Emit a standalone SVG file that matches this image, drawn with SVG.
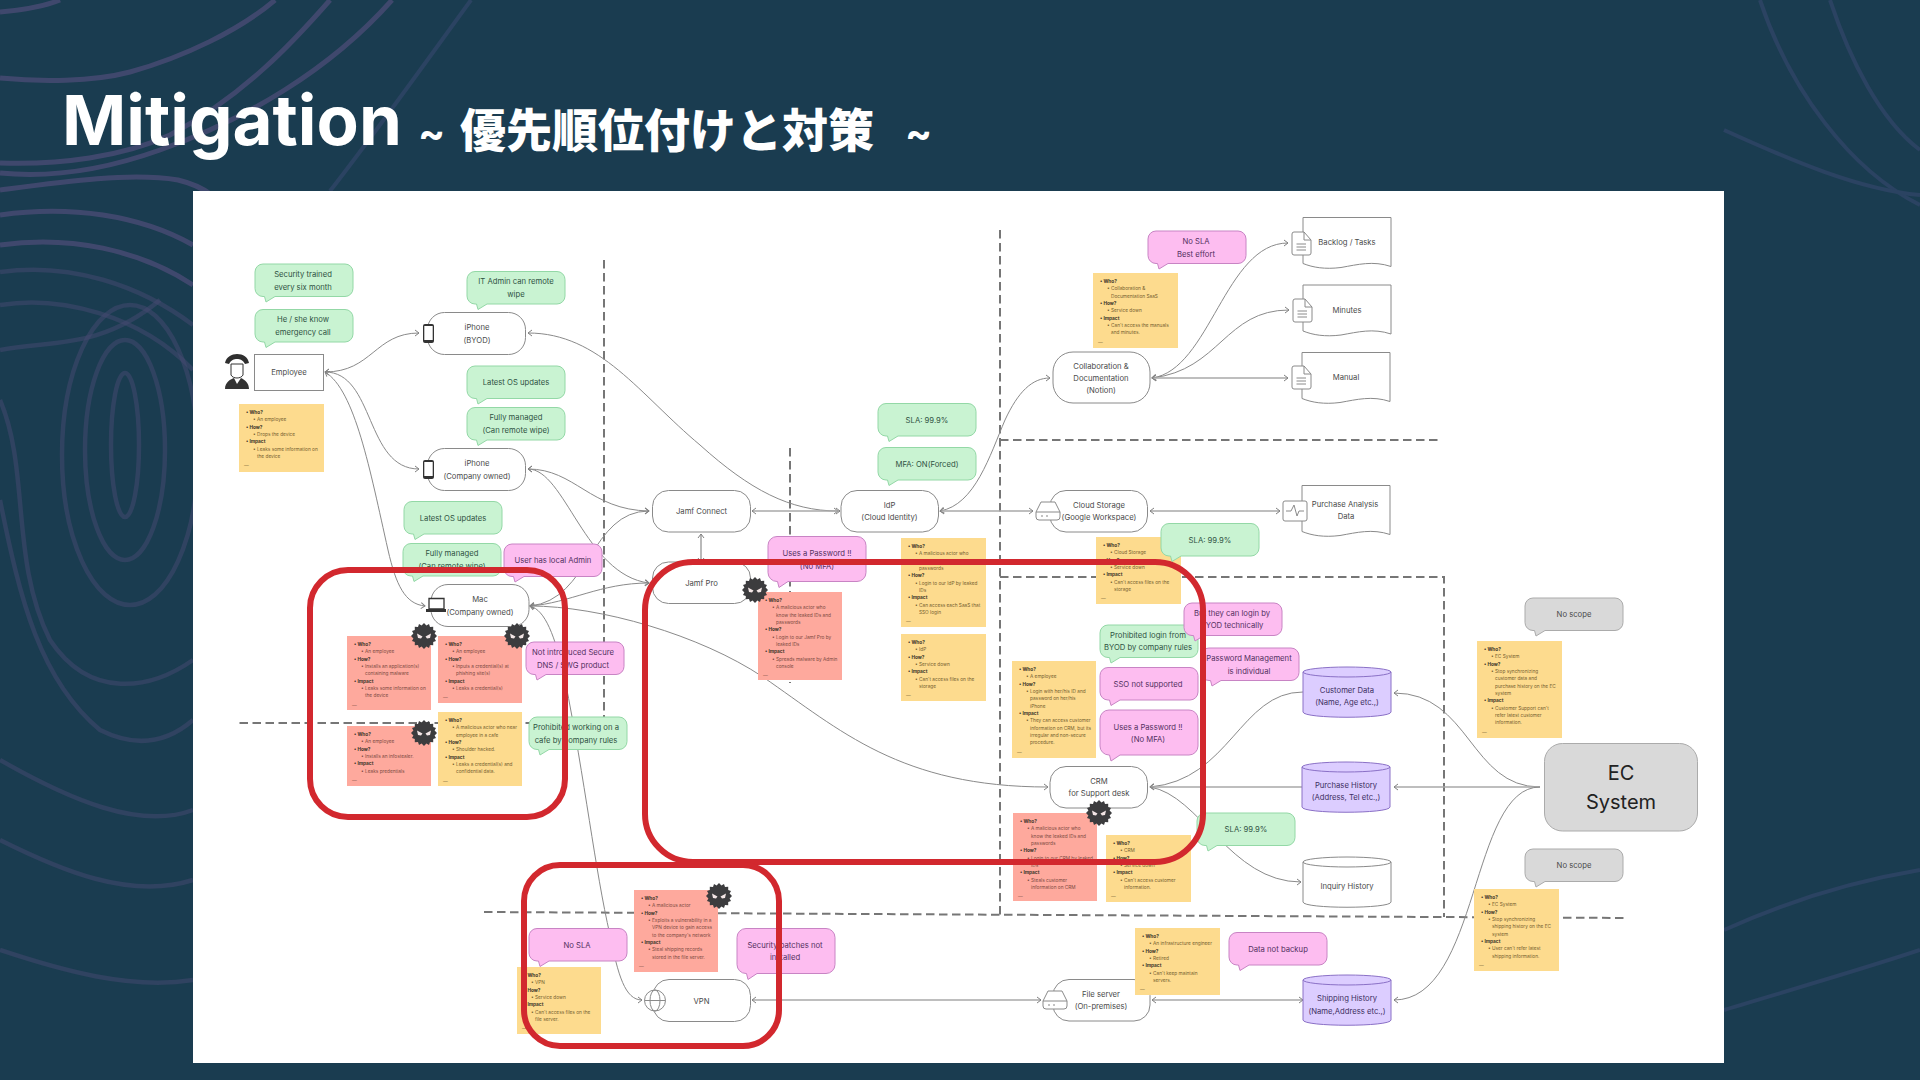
<svg xmlns="http://www.w3.org/2000/svg" width="1920" height="1080" viewBox="0 0 1920 1080">
<style>
text{font-family:Inter,"Noto Sans","Liberation Sans",sans-serif}
.bg{fill:none;stroke:#464a72;stroke-width:5;opacity:.85}
.bl{fill:none;stroke:#464a72;stroke-width:4.500;opacity:.5}
.bf{fill:none;stroke:#2b4362;stroke-width:4}
.c{fill:none;stroke:#8a8a8a;stroke-width:1;marker-start:url(#ch);marker-end:url(#ch)}
.n{fill:none;stroke:#8a8a8a;stroke-width:1}
.s{fill:none;stroke:#a8a8a8;stroke-width:1.6;marker-start:url(#ch);marker-end:url(#ch)}
.sn{fill:none;stroke:#a8a8a8;stroke-width:1.6}
.d{fill:none;stroke:#767676;stroke-width:2;stroke-dasharray:8.500 4.500}
.box{fill:none;stroke:#d2282e;stroke-width:6}
.p{fill:#fff;stroke:#8a8a8a;stroke-width:1}
.green{fill:#c9f3d2;stroke:#93d8a6;stroke-width:1}
.pink{fill:#fdbdf0;stroke:#c884c4;stroke-width:1}
.gray{fill:#d9d9d9;stroke:#ababab;stroke-width:1}
.y{fill:#fddb8e}
.r{fill:#fea99d}
.cy{fill:#dccdff;stroke:#8a70c6;stroke-width:1}
.cw{fill:#fff;stroke:#8a8a8a;stroke-width:1}
.ico{fill:#fff;stroke:#8a8a8a;stroke-width:1}
.t{font-size:7.7px;text-anchor:middle;fill:#4a4a4a}
.tg{font-size:7.7px;text-anchor:middle;fill:#2f5242}
.tp{font-size:7.7px;text-anchor:middle;fill:#53305f}
.tc{font-size:7.7px;text-anchor:middle;fill:#3c2f62}
.m{font-size:4.75px;fill:#75602f}
.mr{font-size:4.75px;fill:#7d4a42}
.b{font-weight:700;fill:#3a3428}
</style>
<defs>
<marker id="ch" viewBox="-7 -4 8 8" refX="0" refY="0" markerWidth="8" markerHeight="8" markerUnits="userSpaceOnUse" orient="auto-start-reverse"><path d="M-4 -3L0 0L-4 3" fill="none" stroke="#808080" stroke-width="1"/></marker>
<path id="bub" d="M8 0H90a8 8 0 0 1 8 8V24.500a8 8 0 0 1-8 8H20L11 38L9.500 32.500H8a8 8 0 0 1-8-8V8a8 8 0 0 1 8-8Z"/>
<path id="bubT" d="M9 0H89a9 9 0 0 1 9 9V36a9 9 0 0 1-9 9H20L11 51L9.500 45H9a9 9 0 0 1-9-9V9a9 9 0 0 1 9-9Z"/>
<g id="mal"><path fill="#3c3c3e" d="M0-13L2.400-10.400L5-12L6-9L9.200-9.200L9.200-6L12-5L10.600-2.400L13 0L10.600 2.400L12 5L9.200 6L9.200 9.200L6 9L5 12L2.400 10.400L0 13L-2.400 10.400L-5 12L-6 9L-9.200 9.200L-9.200 6L-12 5L-10.600 2.400L-13 0L-10.600-2.400L-12-5L-9.200-6L-9.200-9.200L-6-9L-5-12L-2.400-10.400Z"/><path fill="#f3e6e6" d="M-7-2.500L-1.500 0.500L-3 2.500L-6 2ZM7-2.500L1.500 0.500L3 2.500L6 2Z"/></g>
<g id="doc"><path class="ico" d="M2 0H12L19 8V21a2 2 0 0 1-2 2H2a2 2 0 0 1-2-2V2a2 2 0 0 1 2-2Z"/><path fill="none" stroke="#8a8a8a" d="M12 0V8H19M4.500 12H14M4.500 15H14M4.500 18H14"/></g>
<g id="store"><path class="ico" d="M5 0H19L24 10V15a3 3 0 0 1-3 3H3a3 3 0 0 1-3-3V10Z"/><path fill="none" stroke="#8a8a8a" d="M0 10H24"/><circle cx="6" cy="14" r=".8" fill="#777"/><circle cx="11" cy="14" r=".8" fill="#777"/></g>
<g id="phone"><rect x="0" y="0" width="11" height="19" rx="2" fill="#333"/><rect x="1.300" y="2" width="8.400" height="14" fill="#fff"/></g>
<path id="dw" d="M0 0H88V49C70 43 55 47 38 50C22 52 10 50 0 46Z"/>
<g id="cyl"><path d="M0 5V45C0 52 88 52 88 45V5Z"/><ellipse cx="44" cy="5" rx="44" ry="5"/></g>
</defs>

<rect width="1920" height="1080" fill="#1a3c50"/>
<g id="background">
<path class="bg" d="M0 78C40 82 92 82 130 72C184 57 240 30 275 0"/>
<path class="bg" d="M0 12C25 10 45 6 60 0"/>
<path class="bg" d="M0 163C60 165 122 157 170 135C245 95 295 40 330 0"/>
<path class="bg" d="M0 173C50 178 104 170 160 150C245 120 330 70 392 0"/>
<path class="bg" d="M0 190C60 182 130 172 178 180C195 184 205 190 212 195"/>
<path class="bf" d="M471 0C420 70 370 140 330 191"/>
<path class="bg" d="M0 215C70 205 140 215 193 245"/>
<path class="bg" d="M0 245C70 235 140 250 193 285"/>
<path class="bl" d="M0 272C70 262 140 285 193 325"/>
<path class="bl" d="M0 305C60 295 140 315 193 370"/>
<ellipse class="bl" cx="125" cy="445" rx="14" ry="72"/>
<ellipse class="bl" cx="125" cy="450" rx="40" ry="110"/>
<ellipse class="bl" cx="130" cy="455" rx="68" ry="150"/>
<path class="bl" d="M0 350C50 340 100 350 160 300"/>
<path class="bl" d="M0 400C30 470 10 560 50 640C90 700 150 690 193 660"/>
<path class="bl" d="M0 500C20 600 40 680 100 730C140 750 170 740 193 720"/>
<path class="bl" d="M0 760C70 800 140 830 193 810"/>
<path class="bl" d="M0 840C60 870 130 900 193 880"/>
<path class="bl" d="M0 950C60 970 130 990 193 980"/>
<path class="bf" d="M1830 0C1850 60 1880 120 1920 150"/>
<path class="bf" d="M1760 0C1790 90 1850 170 1920 205"/>
<path class="bf" d="M1724 130C1790 160 1860 190 1920 195"/>
<path class="bf" d="M1724 930C1790 900 1860 880 1920 870"/>
<path class="bf" d="M1724 1010C1790 990 1860 970 1920 950"/>
</g>

<g id="title">
<text x="62" y="145" font-size="69" font-weight="700" fill="#fff">Mitigation</text>
<text x="418" y="147" font-size="40" font-weight="700" fill="#fff">~</text>
<text x="460" y="147" font-size="46" font-weight="900" fill="#fff" style="font-family:'Noto Sans CJK JP',sans-serif">優先順位付けと対策</text>
<text x="905" y="147" font-size="40" font-weight="700" fill="#fff">~</text>
</g>

<rect id="panel" x="193" y="191" width="1531" height="872" fill="#fff"/>

<g id="dashes">
<path class="d" d="M604 260V723H236"/>
<path class="d" d="M790 448V683"/>
<path class="d" d="M1000 230V915"/>
<path class="d" d="M1000 440H1442"/>
<path class="d" d="M1000 577H1444V917"/>
<path class="d" d="M484 912L1627 918"/>
</g>

<g id="connectors">
<path class="c" d="M325 372C372 372 375 333 419 333"/>
<path class="c" d="M325 372C375 372 365 469 419 469"/>
<path class="c" d="M325 372C355 390 370 470 388 550C396 585 405 604 425 606"/>
<path class="c" d="M528 333C600 333 640 395 700 445C750 490 790 511 838 511"/>
<path class="c" d="M528 469C575 469 590 510 649 511"/>
<path class="c" d="M528 469C565 469 585 575 649 583"/>
<path class="c" d="M530 606C590 600 590 511 649 511"/>
<path class="c" d="M530 606C570 603 600 583 649 583"/>
<path class="c" d="M530 606C600 606 700 635 763 677C840 730 900 787 1048 787"/>
<path class="c" d="M530 606C545 610 555 635 565 680C585 780 595 870 610 935C618 975 625 1000 642 1000"/>
<path class="s" d="M752 511H840"/>
<path class="s" d="M701 534V562"/>
<path class="c" d="M940 511C975 505 990 455 1005 420C1018 392 1032 378 1050 378"/>
<path class="s" d="M940 511H1033"/>
<path class="s" d="M1150 511H1280"/>
<path class="c" d="M1152 378C1210 370 1225 243 1288 243"/>
<path class="c" d="M1152 378C1220 370 1225 310 1289 310"/>
<path class="s" d="M1152 378H1288"/>
<path class="s" d="M752 1000H1041"/>
<path class="s" d="M1152 1000H1303"/>
<path class="n" d="M1150 787C1230 780 1240 692 1303 692" marker-start="url(#ch)"/>
<path class="sn" d="M1150 787H1303" marker-start="url(#ch)"/>
<path class="n" d="M1150 787C1200 795 1230 882 1301 882" marker-end="url(#ch)"/>
<path class="n" d="M1394 693C1470 693 1470 787 1540 787" marker-start="url(#ch)"/>
<path class="sn" d="M1394 787H1540" marker-start="url(#ch)"/>
<path class="n" d="M1394 1000C1480 1000 1470 787 1540 787" marker-start="url(#ch)"/>
</g>

<g id="n-employee"><rect x="254.500" y="354.500" width="69" height="36" fill="#fff" stroke="#8a8a8a"/><text class="t" x="289" y="375">Employee</text>
<path fill="#2f2f2f" d="M225 363C226 357 232 354 237 354C243 354 248 357 249 363L245 364C243 360 240 359 237 359C234 359 231 360 229 364Z"/><path fill="#fff" stroke="#333" d="M231 364H243V375C241 379 233 379 231 375Z"/><path fill="#333" d="M225 389C225 382 231 379 234 378L237 384L241 378C245 380 249 383 249 389Z"/></g>
<g id="n-iphone-byod"><rect class="p" x="427.500" y="312.500" width="98" height="42" rx="17"/><use href="#phone" x="423" y="324"/><text class="t" x="477" y="330">iPhone</text><text class="t" x="477" y="343">(BYOD)</text></g>
<g id="n-iphone-co"><rect class="p" x="427.500" y="448.500" width="98" height="42" rx="17"/><use href="#phone" x="423" y="460"/><text class="t" x="477" y="466">iPhone</text><text class="t" x="477" y="479">(Company owned)</text></g>
<g id="n-mac"><rect class="p" x="431" y="584.500" width="98" height="42" rx="17"/><path fill="#fff" stroke="#333" stroke-width="1.300" d="M429 598.500H444V609H429Z"/><path fill="#333" d="M426 609H446V612H426Z"/><text class="t" x="480" y="602">Mac</text><text class="t" x="480" y="614.500">(Company owned)</text></g>
<g id="n-jamfconnect"><rect class="p" x="652.500" y="490.500" width="98" height="41.500" rx="16"/><text class="t" x="701.500" y="514">Jamf Connect</text></g>
<g id="n-jamfpro"><rect class="p" x="652.500" y="562" width="98" height="41.500" rx="16"/><text class="t" x="701.500" y="586">Jamf Pro</text></g>
<g id="n-idp"><rect class="p" x="841" y="490.500" width="97.500" height="41.500" rx="16"/><text class="t" x="889.500" y="508">IdP</text><text class="t" x="889.500" y="520">(Cloud Identity)</text></g>
<g id="n-collab"><rect class="p" x="1053" y="352" width="97" height="51" rx="20"/><text class="t" x="1101" y="368.500">Collaboration &amp;</text><text class="t" x="1101" y="381">Documentation</text><text class="t" x="1101" y="393">(Notion)</text></g>
<g id="n-cloud"><rect class="p" x="1050" y="490.500" width="97.500" height="41.500" rx="16"/><use href="#store" x="1036" y="502"/><text class="t" x="1099" y="508">Cloud Storage</text><text class="t" x="1099" y="520">(Google Workspace)</text></g>
<g id="n-crm"><rect class="p" x="1050" y="766.500" width="97.500" height="41.500" rx="16"/><text class="t" x="1099" y="784">CRM</text><text class="t" x="1099" y="796">for Support desk</text></g>
<g id="n-vpn"><rect class="p" x="653" y="979.500" width="97.500" height="42" rx="16"/><circle class="ico" cx="655" cy="1000.500" r="10.500"/><ellipse cx="655" cy="1000.500" rx="5" ry="10.500" fill="none" stroke="#8a8a8a"/><path stroke="#8a8a8a" d="M644.500 1000.500H665.500"/><text class="t" x="701.500" y="1003.500">VPN</text></g>
<g id="n-file"><rect class="p" x="1053" y="979.500" width="97" height="41.500" rx="16"/><use href="#store" x="1043" y="991"/><text class="t" x="1101" y="997">File server</text><text class="t" x="1101" y="1009">(On-premises)</text></g>

<g id="n-backlog"><use href="#dw" x="1303" y="217.500" fill="#fff" stroke="#8a8a8a"/><use href="#doc" x="1292" y="232"/><text class="t" x="1347" y="245">Backlog / Tasks</text></g>
<g id="n-minutes"><use href="#dw" x="1303" y="285" fill="#fff" stroke="#8a8a8a"/><use href="#doc" x="1293" y="299"/><text class="t" x="1347" y="312.500">Minutes</text></g>
<g id="n-manual"><use href="#dw" x="1302" y="352.500" fill="#fff" stroke="#8a8a8a"/><use href="#doc" x="1292" y="366"/><text class="t" x="1346" y="379.500">Manual</text></g>
<g id="n-analysis"><use href="#dw" x="1302" y="485.500" fill="#fff" stroke="#8a8a8a"/><rect class="ico" x="1283" y="501" width="24" height="20" rx="2"/><path fill="none" stroke="#8a8a8a" d="M1286 511H1291L1294 505L1297 516L1299 511H1304"/><text class="t" x="1345" y="507">Purchase Analysis</text><text class="t" x="1346" y="519">Data</text></g>

<g id="n-customer"><use href="#cyl" x="1303" y="667" class="cy"/><text class="tc" x="1347" y="692.500">Customer Data</text><text class="tc" x="1347" y="705">(Name, Age etc.,)</text></g>
<g id="n-purchase"><use href="#cyl" x="1302" y="762" class="cy"/><text class="tc" x="1346" y="788">Purchase History</text><text class="tc" x="1346" y="800">(Address, Tel etc.,)</text></g>
<g id="n-inquiry"><use href="#cyl" x="1303" y="857" class="cw"/><text class="t" x="1347" y="889">Inquiry History</text></g>
<g id="n-shipping"><use href="#cyl" x="1303" y="975" class="cy"/><text class="tc" x="1347" y="1001">Shipping History</text><text class="tc" x="1347" y="1013.500">(Name,Address etc.,)</text></g>

<g id="n-ec"><rect x="1544.500" y="743.500" width="153" height="87.500" rx="18" fill="#d9d9d9" stroke="#ababab"/><text x="1621" y="780" font-size="20" text-anchor="middle" fill="#222">EC</text><text x="1621" y="809" font-size="20" text-anchor="middle" fill="#222">System</text></g>

<g id="note-employee" transform="translate(239 404)"><rect class="y" width="85" height="68"/><text class="m"><tspan class="b" x="7" y="10">• Who?</tspan><tspan x="14" dy="7.330">• An employee</tspan><tspan class="b" x="7" dy="7.330">• How?</tspan><tspan x="14" dy="7.330">• Drops the device</tspan><tspan class="b" x="7" dy="7.330">• Impact</tspan><tspan x="14" dy="7.330">• Leaks some information on</tspan><tspan x="18" dy="7.330">the device</tspan><tspan x="5" dy="9.500">—</tspan></text></g>
<g id="note-r1" transform="translate(347 636)"><rect class="r" width="84" height="74"/><text class="mr"><tspan class="b" x="7" y="10">• Who?</tspan><tspan x="14" dy="7.330">• An employee</tspan><tspan class="b" x="7" dy="7.330">• How?</tspan><tspan x="14" dy="7.330">• Installs an application(s)</tspan><tspan x="18" dy="7.330">containing malware</tspan><tspan class="b" x="7" dy="7.330">• Impact</tspan><tspan x="14" dy="7.330">• Leaks some information on</tspan><tspan x="18" dy="7.330">the device</tspan><tspan x="5" dy="9.500">—</tspan></text></g>
<g id="note-r2" transform="translate(438 636)"><rect class="r" width="84" height="67"/><text class="mr"><tspan class="b" x="7" y="10">• Who?</tspan><tspan x="14" dy="7.330">• An employee</tspan><tspan class="b" x="7" dy="7.330">• How?</tspan><tspan x="14" dy="7.330">• Inputs a credential(s) at</tspan><tspan x="18" dy="7.330">phishing site(s)</tspan><tspan class="b" x="7" dy="7.330">• Impact</tspan><tspan x="14" dy="7.330">• Leaks a credential(s)</tspan><tspan x="5" dy="9.500">—</tspan></text></g>
<g id="note-r3" transform="translate(347 726)"><rect class="r" width="84" height="60"/><text class="mr"><tspan class="b" x="7" y="10">• Who?</tspan><tspan x="14" dy="7.330">• An employee</tspan><tspan class="b" x="7" dy="7.330">• How?</tspan><tspan x="14" dy="7.330">• Installs an infostealer.</tspan><tspan class="b" x="7" dy="7.330">• Impact</tspan><tspan x="14" dy="7.330">• Leaks predentials</tspan><tspan x="5" dy="9.500">—</tspan></text></g>
<g id="note-y1" transform="translate(438 712)"><rect class="y" width="84" height="74"/><text class="m"><tspan class="b" x="7" y="10">• Who?</tspan><tspan x="14" dy="7.330">• A malicious actor who near</tspan><tspan x="18" dy="7.330">employee in a cafe</tspan><tspan class="b" x="7" dy="7.330">• How?</tspan><tspan x="14" dy="7.330">• Shoulder hacked.</tspan><tspan class="b" x="7" dy="7.330">• Impact</tspan><tspan x="14" dy="7.330">• Leaks a credential(s) and</tspan><tspan x="18" dy="7.330">confidential data.</tspan><tspan x="5" dy="9.500">—</tspan></text></g>
<g id="note-jamf" transform="translate(758 592)"><rect class="r" width="84" height="88"/><text class="mr"><tspan class="b" x="7" y="10">• Who?</tspan><tspan x="14" dy="7.330">• A malicious actor who</tspan><tspan x="18" dy="7.330">know the leaked IDs and</tspan><tspan x="18" dy="7.330">passwords</tspan><tspan class="b" x="7" dy="7.330">• How?</tspan><tspan x="14" dy="7.330">• Login to our Jamf Pro by</tspan><tspan x="18" dy="7.330">leaked IDs</tspan><tspan class="b" x="7" dy="7.330">• Impact</tspan><tspan x="14" dy="7.330">• Spreads malware by Admin</tspan><tspan x="18" dy="7.330">console</tspan><tspan x="5" dy="9.500">—</tspan></text></g>
<g id="note-idp1" transform="translate(901 538)"><rect class="y" width="85" height="89"/><text class="m"><tspan class="b" x="7" y="10">• Who?</tspan><tspan x="14" dy="7.330">• A malicious actor who</tspan><tspan x="18" dy="7.330">know the leaked IDs and</tspan><tspan x="18" dy="7.330">passwords</tspan><tspan class="b" x="7" dy="7.330">• How?</tspan><tspan x="14" dy="7.330">• Login to our IdP by leaked</tspan><tspan x="18" dy="7.330">IDs</tspan><tspan class="b" x="7" dy="7.330">• Impact</tspan><tspan x="14" dy="7.330">• Can access each SaaS that</tspan><tspan x="18" dy="7.330">SSO login</tspan><tspan x="5" dy="9.500">—</tspan></text></g>
<g id="note-idp2" transform="translate(901 634)"><rect class="y" width="85" height="67"/><text class="m"><tspan class="b" x="7" y="10">• Who?</tspan><tspan x="14" dy="7.330">• IdP</tspan><tspan class="b" x="7" dy="7.330">• How?</tspan><tspan x="14" dy="7.330">• Service down</tspan><tspan class="b" x="7" dy="7.330">• Impact</tspan><tspan x="14" dy="7.330">• Can't access files on the</tspan><tspan x="18" dy="7.330">storage</tspan><tspan x="5" dy="9.500">—</tspan></text></g>
<g id="note-collab" transform="translate(1093 273)"><rect class="y" width="85" height="75"/><text class="m"><tspan class="b" x="7" y="10">• Who?</tspan><tspan x="14" dy="7.330">• Collaboration &amp;</tspan><tspan x="18" dy="7.330">Documentation SaaS</tspan><tspan class="b" x="7" dy="7.330">• How?</tspan><tspan x="14" dy="7.330">• Service down</tspan><tspan class="b" x="7" dy="7.330">• Impact</tspan><tspan x="14" dy="7.330">• Can't access the manuals</tspan><tspan x="18" dy="7.330">and minutes.</tspan><tspan x="5" dy="9.500">—</tspan></text></g>
<g id="note-storage" transform="translate(1096 537)"><rect class="y" width="85" height="67"/><text class="m"><tspan class="b" x="7" y="10">• Who?</tspan><tspan x="14" dy="7.330">• Cloud Storage</tspan><tspan class="b" x="7" dy="7.330">• How?</tspan><tspan x="14" dy="7.330">• Service down</tspan><tspan class="b" x="7" dy="7.330">• Impact</tspan><tspan x="14" dy="7.330">• Can't access files on the</tspan><tspan x="18" dy="7.330">storage</tspan><tspan x="5" dy="9.500">—</tspan></text></g>
<g id="note-byod" transform="translate(1012 661)"><rect class="y" width="84" height="97"/><text class="m"><tspan class="b" x="7" y="10">• Who?</tspan><tspan x="14" dy="7.330">• A employee</tspan><tspan class="b" x="7" dy="7.330">• How?</tspan><tspan x="14" dy="7.330">• Login with her/his ID and</tspan><tspan x="18" dy="7.330">password on her/his</tspan><tspan x="18" dy="7.330">iPhone</tspan><tspan class="b" x="7" dy="7.330">• Impact</tspan><tspan x="14" dy="7.330">• They can access customer</tspan><tspan x="18" dy="7.330">information on CRM, but its</tspan><tspan x="18" dy="7.330">irregular and non-secure</tspan><tspan x="18" dy="7.330">procedure.</tspan><tspan x="5" dy="9.500">—</tspan></text></g>
<g id="note-crm-r" transform="translate(1013 813)"><rect class="r" width="84" height="88"/><text class="mr"><tspan class="b" x="7" y="10">• Who?</tspan><tspan x="14" dy="7.330">• A malicious actor who</tspan><tspan x="18" dy="7.330">know the leaked IDs and</tspan><tspan x="18" dy="7.330">passwords</tspan><tspan class="b" x="7" dy="7.330">• How?</tspan><tspan x="14" dy="7.330">• Login to our CRM by leaked</tspan><tspan x="18" dy="7.330">IDs</tspan><tspan class="b" x="7" dy="7.330">• Impact</tspan><tspan x="14" dy="7.330">• Steals customer</tspan><tspan x="18" dy="7.330">information on CRM</tspan><tspan x="5" dy="9.500">—</tspan></text></g>
<g id="note-crm-y" transform="translate(1106 835)"><rect class="y" width="85" height="67"/><text class="m"><tspan class="b" x="7" y="10">• Who?</tspan><tspan x="14" dy="7.330">• CRM</tspan><tspan class="b" x="7" dy="7.330">• How?</tspan><tspan x="14" dy="7.330">• Service down</tspan><tspan class="b" x="7" dy="7.330">• Impact</tspan><tspan x="14" dy="7.330">• Can't access customer</tspan><tspan x="18" dy="7.330">information.</tspan><tspan x="5" dy="9.500">—</tspan></text></g>
<g id="note-file" transform="translate(1135 928)"><rect class="y" width="85" height="67"/><text class="m"><tspan class="b" x="7" y="10">• Who?</tspan><tspan x="14" dy="7.330">• An infrastructure engineer</tspan><tspan class="b" x="7" dy="7.330">• How?</tspan><tspan x="14" dy="7.330">• Retired</tspan><tspan class="b" x="7" dy="7.330">• Impact</tspan><tspan x="14" dy="7.330">• Can't keep maintain</tspan><tspan x="18" dy="7.330">servers.</tspan><tspan x="5" dy="9.500">—</tspan></text></g>
<g id="note-vpn-r" transform="translate(634 890)"><rect class="r" width="84" height="82"/><text class="mr"><tspan class="b" x="7" y="10">• Who?</tspan><tspan x="14" dy="7.330">• A malicious actor</tspan><tspan class="b" x="7" dy="7.330">• How?</tspan><tspan x="14" dy="7.330">• Exploits a vulnerability in a</tspan><tspan x="18" dy="7.330">VPN device to gain access</tspan><tspan x="18" dy="7.330">to the company's network</tspan><tspan class="b" x="7" dy="7.330">• Impact</tspan><tspan x="14" dy="7.330">• Steal shipping records</tspan><tspan x="18" dy="7.330">stored in the file server.</tspan><tspan x="5" dy="9.500">—</tspan></text></g>
<g id="note-vpn-y" transform="translate(517 967)"><rect class="y" width="84" height="67"/><text class="m"><tspan class="b" x="7" y="10">• Who?</tspan><tspan x="14" dy="7.330">• VPN</tspan><tspan class="b" x="7" dy="7.330">• How?</tspan><tspan x="14" dy="7.330">• Service down</tspan><tspan class="b" x="7" dy="7.330">• Impact</tspan><tspan x="14" dy="7.330">• Can't access files on the</tspan><tspan x="18" dy="7.330">file server.</tspan><tspan x="5" dy="9.500">—</tspan></text></g>
<g id="note-ec1" transform="translate(1477 641)"><rect class="y" width="85" height="97"/><text class="m"><tspan class="b" x="7" y="10">• Who?</tspan><tspan x="14" dy="7.330">• EC System</tspan><tspan class="b" x="7" dy="7.330">• How?</tspan><tspan x="14" dy="7.330">• Stop synchronizing</tspan><tspan x="18" dy="7.330">customer data and</tspan><tspan x="18" dy="7.330">purchase history on the EC</tspan><tspan x="18" dy="7.330">system</tspan><tspan class="b" x="7" dy="7.330">• Impact</tspan><tspan x="14" dy="7.330">• Customer Support can't</tspan><tspan x="18" dy="7.330">refer latest customer</tspan><tspan x="18" dy="7.330">information.</tspan><tspan x="5" dy="9.500">—</tspan></text></g>
<g id="note-ec2" transform="translate(1474 889)"><rect class="y" width="85" height="82"/><text class="m"><tspan class="b" x="7" y="10">• Who?</tspan><tspan x="14" dy="7.330">• EC System</tspan><tspan class="b" x="7" dy="7.330">• How?</tspan><tspan x="14" dy="7.330">• Stop synchronizing</tspan><tspan x="18" dy="7.330">shipping history on the EC</tspan><tspan x="18" dy="7.330">system</tspan><tspan class="b" x="7" dy="7.330">• Impact</tspan><tspan x="14" dy="7.330">• User can't refer latest</tspan><tspan x="18" dy="7.330">shipping information.</tspan><tspan x="5" dy="9.500">—</tspan></text></g>

<g id="b-security"><use href="#bub" x="255" y="264" class="green"/><text class="tg" x="303" y="277">Security trained</text><text class="tg" x="303" y="289.500">every six month</text></g>
<g id="b-heshe"><use href="#bub" x="255" y="309.500" class="green"/><text class="tg" x="303" y="322">He / she know</text><text class="tg" x="303" y="334.500">emergency call</text></g>
<g id="b-itadmin"><use href="#bub" x="467" y="271.500" class="green"/><text class="tg" x="516" y="284">IT Admin can remote</text><text class="tg" x="516" y="296.500">wipe</text></g>
<g id="b-latest1"><use href="#bub" x="467" y="366" class="green"/><text class="tg" x="516" y="385">Latest OS updates</text></g>
<g id="b-fully1"><use href="#bub" x="467" y="407.500" class="green"/><text class="tg" x="516" y="420">Fully managed</text><text class="tg" x="516" y="432.500">(Can remote wipe)</text></g>
<g id="b-latest2"><use href="#bub" x="404" y="501.500" class="green"/><text class="tg" x="453" y="520.500">Latest OS updates</text></g>
<g id="b-fully2"><use href="#bub" x="403" y="543.500" class="green"/><text class="tg" x="452" y="556">Fully managed</text><text class="tg" x="452" y="568.500">(Can remote wipe)</text></g>
<g id="b-local"><use href="#bub" x="504" y="544" class="pink"/><text class="tp" x="553" y="563">User has local Admin</text></g>
<g id="b-secure"><use href="#bub" x="526" y="642" class="pink"/><text class="tp" x="573" y="655">Not introduced Secure</text><text class="tp" x="573" y="667.500">DNS / SWG product</text></g>
<g id="b-cafe"><use href="#bub" x="529" y="717" class="green"/><text class="tg" x="576" y="730">Prohibited working on a</text><text class="tg" x="576" y="742.500">cafe by company rules</text></g>
<g id="b-sla1"><use href="#bub" x="878" y="403.500" class="green"/><text class="tg" x="927" y="422.500">SLA: 99.9%</text></g>
<g id="b-mfa"><use href="#bub" x="878" y="447.500" class="green"/><text class="tg" x="927" y="466.500">MFA: ON(Forced)</text></g>
<g id="b-pw1"><use href="#bubT" x="768" y="536.500" class="pink"/><text class="tp" x="817" y="556">Uses a Password !!</text><text class="tp" x="817" y="569">(No MFA)</text></g>
<g id="b-nosla"><use href="#bub" x="1148" y="231" class="pink"/><text class="tp" x="1196" y="244">No SLA</text><text class="tp" x="1196" y="256.500">Best effort</text></g>
<g id="b-sla2"><use href="#bub" x="1161" y="523.500" class="green"/><text class="tg" x="1210" y="542.500">SLA: 99.9%</text></g>
<g id="b-prohibit"><use href="#bub" x="1100" y="625" class="green"/><text class="tg" x="1148" y="637.500">Prohibited login from</text><text class="tg" x="1148" y="650">BYOD by company rules</text></g>
<g id="b-byod"><use href="#bub" x="1184" y="603" class="pink"/><text class="tp" x="1232" y="615.500">But they can login by</text><text class="tp" x="1232" y="628">BYOD technically</text></g>
<g id="b-pwm"><use href="#bub" x="1201" y="648" class="pink"/><text class="tp" x="1249" y="661">Password Management</text><text class="tp" x="1249" y="673.500">is individual</text></g>
<g id="b-sso"><use href="#bub" x="1100" y="667.500" class="pink"/><text class="tp" x="1148" y="686.500">SSO not supported</text></g>
<g id="b-pw2"><use href="#bubT" x="1100" y="710" class="pink"/><text class="tp" x="1148" y="729.500">Uses a Password !!</text><text class="tp" x="1148" y="742">(No MFA)</text></g>
<g id="b-sla3"><use href="#bub" x="1197" y="813" class="green"/><text class="tg" x="1246" y="832">SLA: 99.9%</text></g>
<g id="b-nosla2"><use href="#bub" x="529" y="928.500" class="pink"/><text class="tp" x="577" y="947.500">No SLA</text></g>
<g id="b-patch"><use href="#bubT" x="737" y="928.500" class="pink"/><text class="tp" x="785" y="948">Security patches not</text><text class="tp" x="785" y="960">installed</text></g>
<g id="b-backup"><use href="#bub" x="1229" y="932.500" class="pink"/><text class="tp" x="1278" y="951.500">Data not backup</text></g>
<g id="b-scope1"><use href="#bub" x="1525" y="598" class="gray"/><text class="t" x="1574" y="617">No scope</text></g>
<g id="b-scope2"><use href="#bub" x="1525" y="849" class="gray"/><text class="t" x="1574" y="868">No scope</text></g>

<g id="threats">
<use href="#mal" x="424" y="636"/><use href="#mal" x="517" y="636"/><use href="#mal" x="424" y="733"/><use href="#mal" x="755" y="590"/><use href="#mal" x="1099" y="813"/><use href="#mal" x="719" y="896"/>
</g>

<g id="highlights">
<rect class="box" x="310" y="570" width="255" height="247" rx="38"/>
<rect class="box" x="645" y="562" width="558" height="300" rx="48"/>
<rect class="box" x="524" y="865" width="255" height="181" rx="36"/>
</g>
</svg>
